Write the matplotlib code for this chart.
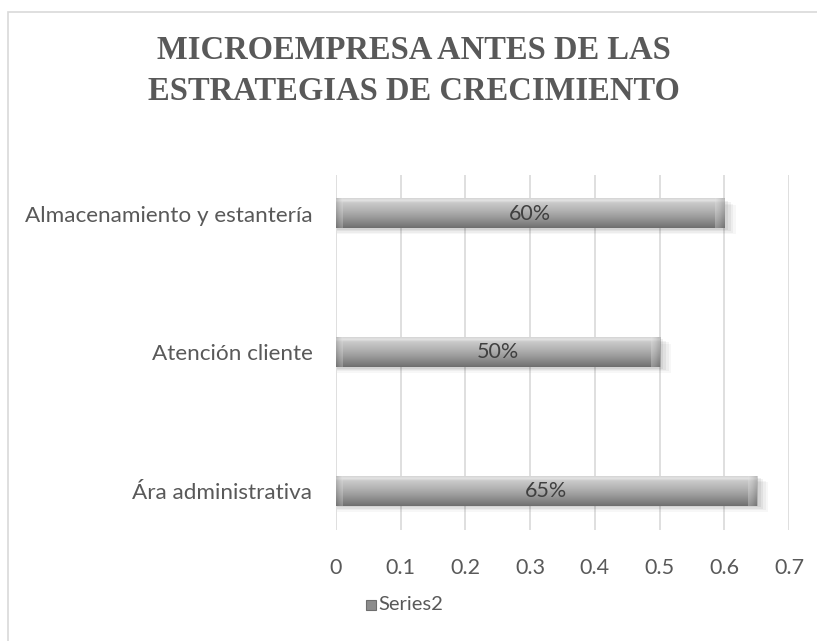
import numpy as np
import matplotlib
matplotlib.use("Agg")
import matplotlib.pyplot as plt
from matplotlib.colors import LinearSegmentedColormap
from matplotlib.patches import Rectangle

categories = ["Ára administrativa", "Atención cliente", "Almacenamiento y estantería"]
values = [0.65, 0.50, 0.60]
value_labels = ["65%", "50%", "60%"]
xticks = [0, 0.1, 0.2, 0.3, 0.4, 0.5, 0.6, 0.7]
xtick_labels = ["0", "0.1", "0.2", "0.3", "0.4", "0.5", "0.6", "0.7"]
title = "MICROEMPRESA ANTES DE LAS\nESTRATEGIAS DE CRECIMIENTO"
series_name = "Series2"

W, H = 817, 641
FONT = "Lato"
fig = plt.figure(figsize=(W / 100, H / 100), dpi=100)
fig.patch.set_facecolor("white")

# chart-area border
fig.patches.append(Rectangle((8 / W, -0.05), 1.2, 1 - 12 / H + 0.05, transform=fig.transFigure,
                             fill=False, edgecolor="#d9d9d9", linewidth=1.2))

ax = fig.add_axes([336 / W, 1 - 530 / H, (789 - 336) / W, (530 - 175) / H])
ax.set_xlim(0, 0.7)
ax.set_ylim(-0.28, 2.28)
for s in ax.spines.values():
    s.set_visible(False)
ax.set_xticks(xticks)
ax.set_xticklabels(xtick_labels)
ax.set_yticks(range(len(categories)))
ax.set_yticklabels(categories)
ax.tick_params(axis="both", length=0, labelsize=15.5, labelcolor="#595959")
ax.tick_params(axis="y", labelsize=16.2)
ax.tick_params(axis="x", pad=20)
ax.tick_params(axis="y", pad=17)
for lab in ax.get_xticklabels() + ax.get_yticklabels():
    lab.set_fontfamily(FONT)
ax.grid(axis="x", color="#d9d9d9", linewidth=1.2)
ax.set_axisbelow(True)

cmap = LinearSegmentedColormap.from_list("bevel", [
    (0.0, "#6e6e6e"), (0.08, "#7a7a7a"), (0.35, "#9a9a9a"), (0.6, "#b4b4b4"),
    (0.85, "#cacaca"), (0.93, "#e4e4e4"), (1.0, "#d4d4d4")])
grad = np.linspace(0, 1, 64).reshape(-1, 1)
endgrad = np.linspace(0, 1, 16).reshape(1, -1)
h = 0.21
for i, (v, lab) in enumerate(zip(values, value_labels)):
    # soft shadow
    for k, a in enumerate([0.06, 0.05, 0.04, 0.03]):
        d = 0.008 * (k + 1)
        ax.add_patch(Rectangle((0.002, i - h / 2 - d * 1.3), v + 0.004 * (k + 1), h,
                               facecolor="black", alpha=a, edgecolor="none", zorder=2))
    ax.imshow(grad, cmap=cmap, aspect="auto", origin="lower",
              extent=[0, v, i - h / 2, i + h / 2], zorder=3, interpolation="bilinear")
    # bevelled ends
    ax.imshow(endgrad, cmap="Greys", vmin=-0.5, vmax=2.0, alpha=0.35, aspect="auto",
              origin="lower", extent=[v - 0.014, v, i - h / 2, i + h / 2], zorder=4,
              interpolation="bilinear")
    ax.imshow(endgrad[:, ::-1], cmap="Greys", vmin=-0.5, vmax=2.0, alpha=0.3, aspect="auto",
              origin="lower", extent=[0, 0.01, i - h / 2, i + h / 2], zorder=4,
              interpolation="bilinear")
    ax.text(v / 2, i, lab, ha="center", va="center", fontsize=15.5, color="#404040",
            family=FONT, zorder=5)

fig.text(414 / W, 1 - 71 / H, title, ha="center", va="center", fontsize=23.5,
         fontweight="bold", family="Liberation Serif", color="#595959", linespacing=1.4)

# legend
fig.patches.append(Rectangle((366 / W, 1 - 610 / H), 10 / W, 10 / H, transform=fig.transFigure,
                             facecolor="#8c8c8c", edgecolor="#6e6e6e", linewidth=0.8))
fig.text(378 / W, 1 - 605 / H, series_name, ha="left", va="center", fontsize=14.5,
         family=FONT, color="#595959")

fig.savefig("out.png", dpi=100)
